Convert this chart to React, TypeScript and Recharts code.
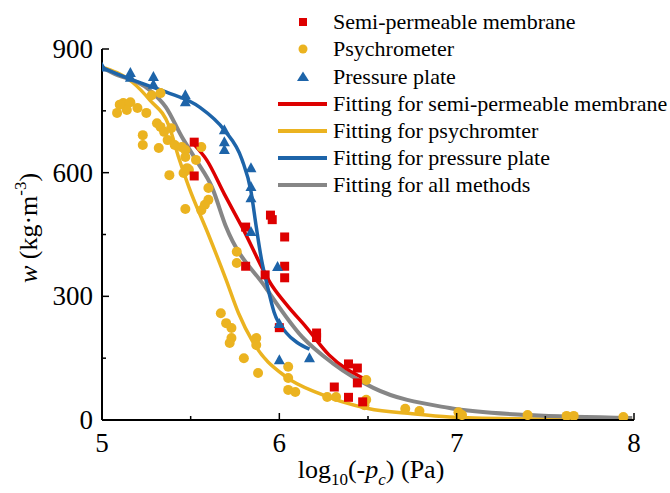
import React from 'react';
import { ComposedChart, Scatter, Line, XAxis, YAxis, Customized } from 'recharts';

const xTicks = [5, 5.5, 6, 6.5, 7, 7.5, 8];
const yTicks = [0, 150, 300, 450, 600, 750, 900];

const membranePts: [number, number][] = [
  [5.52, 674], [5.52, 592], [5.81, 468], [5.81, 373], [5.95, 497], [5.96, 486],
  [6.03, 444], [6.03, 373], [6.03, 345], [5.92, 352], [6.0, 224], [6.21, 211],
  [6.21, 200], [6.39, 136], [6.44, 126], [6.44, 90], [6.31, 80], [6.39, 55], [6.47, 44],
];

const psychroPts: [number, number][] = [
  [5.085, 745], [5.12, 769], [5.16, 771], [5.2, 757], [5.14, 752], [5.1, 765],
  [5.28, 788], [5.33, 793], [5.25, 745], [5.31, 720], [5.33, 711], [5.35, 699],
  [5.39, 708], [5.23, 691], [5.23, 667], [5.32, 660], [5.37, 679], [5.41, 667],
  [5.45, 662], [5.47, 655], [5.47, 638], [5.53, 631], [5.56, 662], [5.38, 594],
  [5.46, 599], [5.48, 611], [5.49, 607], [5.6, 563], [5.6, 534], [5.58, 522],
  [5.47, 512], [5.56, 509], [5.76, 408], [5.76, 381], [5.67, 259], [5.7, 235],
  [5.73, 223], [5.73, 199], [5.72, 187], [5.8, 150], [5.87, 199], [5.87, 182],
  [5.88, 114], [6.05, 129], [6.05, 102], [6.05, 73], [6.09, 68], [6.27, 56],
  [6.32, 56], [6.49, 49], [6.49, 97], [6.48, 36], [6.71, 27], [6.79, 22],
  [7.01, 19], [7.03, 12], [7.4, 12], [7.62, 10], [7.66, 10], [7.94, 7],
];

const platePts: [number, number][] = [
  [5.0, 855], [5.16, 842], [5.16, 830], [5.29, 832], [5.29, 813], [5.47, 788],
  [5.47, 771], [5.69, 703], [5.69, 674], [5.69, 655], [5.84, 611], [5.84, 565],
  [5.84, 538], [5.84, 456], [5.99, 371], [6.0, 233], [6.0, 145], [6.17, 150],
];

const membraneFit: [number, number][] = [
  [5.52, 668], [5.59, 631], [5.69, 548], [5.79, 468], [5.96, 325], [6.05, 275],
  [6.15, 226], [6.28, 158], [6.47, 102],
];

const psychroFit: [number, number][] = [
  [5.0, 856], [5.17, 820], [5.27, 776], [5.38, 711], [5.43, 640], [5.49, 565],
  [5.6, 450], [5.7, 340], [5.77, 259], [5.85, 190], [6.04, 104], [6.22, 65],
  [6.5, 28], [6.75, 15], [6.96, 7], [7.3, 3], [7.99, 1],
];

const plateFit: [number, number][] = [
  [5.0, 855], [5.17, 825], [5.36, 796], [5.55, 759], [5.69, 703], [5.79, 631],
  [5.84, 555], [5.87, 468], [5.9, 388], [5.93, 330], [5.97, 262], [6.04, 211],
  [6.1, 188], [6.17, 172],
];

const allFit: [number, number][] = [
  [5.0, 855], [5.06, 842], [5.27, 800], [5.36, 759], [5.45, 687], [5.53, 631],
  [5.62, 565], [5.7, 468], [5.92, 323], [6.13, 201], [6.3, 138], [6.53, 78],
  [6.96, 29], [7.41, 12], [7.99, 5],
];

const toRows = (a: [number, number][]) => a.map(([x, y]) => ({ x, y }));

const RED = '#dd0000';
const YELLOW = '#ebb320';
const BLUE = '#1d64a9';
const GRAY = '#868686';
const FONT = 'Liberation Serif, DejaVu Serif, serif';
const fs = (size: number, italic = false): React.CSSProperties => ({
  fontFamily: FONT,
  fontSize: size,
  fontStyle: italic ? 'italic' : 'normal',
});

const SquareShape = (p: any) => (
  <rect x={p.cx - 4.5} y={p.cy - 4.5} width={9} height={9} fill={RED} />
);
const CircleShape = (p: any) => <circle cx={p.cx} cy={p.cy} r={5} fill={YELLOW} />;
const TriShape = (p: any) => (
  <polygon
    points={`${p.cx},${p.cy - 6} ${p.cx - 5.5},${p.cy + 4} ${p.cx + 5.5},${p.cy + 4}`}
    fill={BLUE}
  />
);

const XTick = (props: any) => {
  const { x, y, payload } = props;
  const v = payload.value;
  const major = Math.abs(v - Math.round(v)) < 1e-6;
  return (
    <g>
      <line x1={x} x2={x} y1={y} y2={y - (major ? 7 : 4)} stroke="#000" strokeWidth={1.5} />
      {major && (
        <text x={x} y={y + 32} textAnchor="middle" style={fs(27)} fill="#000">
          {v}
        </text>
      )}
    </g>
  );
};

const YTick = (props: any) => {
  const { x, y, payload } = props;
  const v = payload.value;
  const major = v % 300 === 0;
  return (
    <g>
      <line x1={x} x2={x + (major ? 7 : 4)} y1={y} y2={y} stroke="#000" strokeWidth={1.5} />
      {major && (
        <text x={x - 9} y={y + 9} textAnchor="end" style={fs(27)} fill="#000">
          {v}
        </text>
      )}
    </g>
  );
};

const legendRows = [
  { kind: 'square', label: 'Semi-permeable membrane', y: 22 },
  { kind: 'circle', label: 'Psychrometer', y: 49 },
  { kind: 'tri', label: 'Pressure plate', y: 77 },
  { kind: 'line', color: RED, label: 'Fitting for semi-permeable membrane', y: 104 },
  { kind: 'line', color: YELLOW, label: 'Fitting for psychromter', y: 131 },
  { kind: 'line', color: BLUE, label: 'Fitting for pressure plate', y: 158 },
  { kind: 'line', color: GRAY, label: 'Fitting for all methods', y: 185 },
];

const LegendLayer = () => (
  <g>
    {legendRows.map((r, i) => {
      const mx = 303;
      let marker: any = null;
      if (r.kind === 'square') marker = <rect x={mx - 4} y={r.y - 4} width={8} height={8} fill={RED} />;
      else if (r.kind === 'circle') marker = <circle cx={mx} cy={r.y} r={4.5} fill={YELLOW} />;
      else if (r.kind === 'tri')
        marker = <polygon points={`${mx},${r.y - 5.5} ${mx - 6},${r.y + 4} ${mx + 6},${r.y + 4}`} fill={BLUE} />;
      else marker = <line x1={278} x2={327} y1={r.y} y2={r.y} stroke={r.color} strokeWidth={4} />;
      return (
        <g key={i}>
          {marker}
          <text x={333} y={r.y + 7} style={fs(22)} fill="#000">
            {r.label}
          </text>
        </g>
      );
    })}
  </g>
);

const AxisTitles = () => (
  <g fill="#000">
    <text x={371} y={478} textAnchor="middle" style={fs(26)}>
      <tspan>log</tspan>
      <tspan style={fs(17)} dy={7}>10</tspan>
      <tspan dy={-7}>(-</tspan>
      <tspan style={fs(26, true)}>p</tspan>
      <tspan style={fs(17, true)} dy={7}>c</tspan>
      <tspan dy={-7}>) (Pa)</tspan>
    </text>
    <text x={37} y={228} textAnchor="middle" style={fs(26)} transform="rotate(-90, 37, 228)">
      <tspan style={fs(26, true)}>w</tspan>
      <tspan> (kg·m</tspan>
      <tspan style={fs(17)} dy={-11}>-3</tspan>
      <tspan dy={11}>)</tspan>
    </text>
  </g>
);

export default function App() {
  return (
    <div style={{ position: 'absolute', left: 0, top: 0, width: 670, height: 493, background: '#fff' }}>
      <ComposedChart width={670} height={493} margin={{ top: 49, right: 36, bottom: 33, left: 42 }}>
        <XAxis
          type="number"
          dataKey="x"
          domain={[5, 8]}
          ticks={xTicks}
          interval={0}
          allowDataOverflow
          tick={<XTick />}
          tickSize={0}
          tickMargin={0}
          tickLine={false}
          axisLine={{ stroke: '#000', strokeWidth: 2 }}
          height={40}
        />
        <YAxis
          type="number"
          dataKey="y"
          domain={[0, 900]}
          ticks={yTicks}
          interval={0}
          allowDataOverflow
          tick={<YTick />}
          tickSize={0}
          tickMargin={0}
          tickLine={false}
          axisLine={{ stroke: '#000', strokeWidth: 2 }}
          width={60}
        />
        <Scatter data={toRows(psychroPts)} dataKey="y" shape={CircleShape} isAnimationActive={false} />
        <Scatter data={toRows(membranePts)} dataKey="y" shape={SquareShape} isAnimationActive={false} />
        <Scatter data={toRows(platePts)} dataKey="y" shape={TriShape} isAnimationActive={false} />
        <Line data={toRows(psychroFit)} dataKey="y" type="monotone" stroke={YELLOW} strokeWidth={3.5} dot={false} activeDot={false} isAnimationActive={false} />
        <Line data={toRows(allFit)} dataKey="y" type="monotone" stroke={GRAY} strokeWidth={4} dot={false} activeDot={false} isAnimationActive={false} />
        <Line data={toRows(membraneFit)} dataKey="y" type="monotone" stroke={RED} strokeWidth={3.5} dot={false} activeDot={false} isAnimationActive={false} />
        <Line data={toRows(plateFit)} dataKey="y" type="monotone" stroke={BLUE} strokeWidth={3.5} dot={false} activeDot={false} isAnimationActive={false} />
        <Customized component={LegendLayer} />
        <Customized component={AxisTitles} />
      </ComposedChart>
    </div>
  );
}
